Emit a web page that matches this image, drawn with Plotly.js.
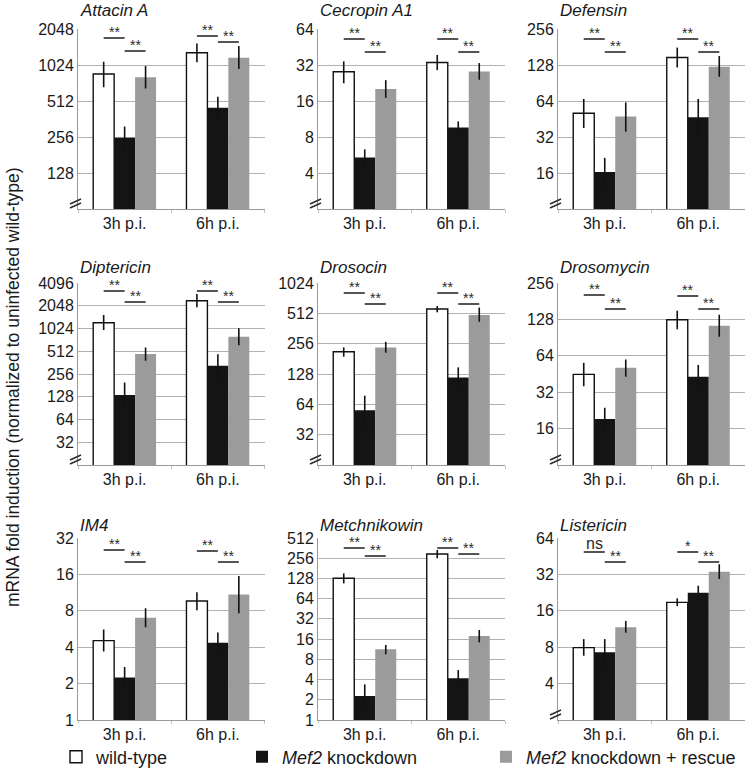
<!DOCTYPE html>
<html><head><meta charset="utf-8">
<script src="https://cdn.plot.ly/plotly-3.0.1.min.js"></script>
<style>html,body{margin:0;padding:0;background:#fff}</style>
</head><body><div id="chart" style="width:746px;height:778px"></div>
<script>
// ---------------- DATA ----------------
const genes = ['Attacin A','Cecropin A1','Defensin','Diptericin','Drosocin','Drosomycin','IM4','Metchnikowin','Listericin'];
const timepoints = ['3h p.i.','6h p.i.'];
const seriesNames = ['wild-type','<i>Mef2</i> knockdown','<i>Mef2</i> knockdown + rescue'];

// fold induction per gene: [3h, 6h]
const wildType    = [[861,1296],[28.1,33.6],[50.6,148],[1221,2390],[213,566],[44.9,127],[4.53,9.65],[129,296],[7.94,18.8]];
const wildTypeHi  = [[1092,1552],[34.3,38.8],[66.6,179],[1540,2930],[235,605],[56,151],[5.6,11.4],[152,340],[9.33,20.3]];
const wildTypeLo  = [[666,1078],[22.5,29.0],[38,122],[976,1953],[190,524],[35.8,106],[3.68,8.1],[108,256],[6.8,17.5]];

const knockdown   = [[252,449],[5.4,9.6],[16.3,46.9],[135,329],[56,118],[19.2,43],[2.25,4.35],[2.28,4.17],[7.26,22.6]];
const knockdownHi = [[313,556],[6.3,10.8],[21.4,66.6],[197,468],[78,149],[23.8,53.8],[2.75,5.28],[3.39,5.54],[9.33,25.8]];
const knockdownLo = [[203,362],[4.6,8.5],[12.5,33],[92,232],[40,93],[15.5,34.5],[1.85,3.6],[1.55,3.1],[5.6,19.8]];

const rescue      = [[809,1177],[20.2,28.3],[47.6,124],[471,798],[235,492],[50.9,113.6],[7.0,10.9],[11.3,17.8],[11.7,33.6]];
const rescueHi    = [[1003,1478],[23.9,33.2],[62.3,152],[575,1031],[267,584],[59.7,140],[8.38,15.5],[13.1,21.9],[13.2,38.8]];
const rescueLo    = [[652,948],[17.0,24.1],[35.5,102],[383,617],[208,422],[43,92],[5.86,7.62],[9.5,14.3],[10.55,29.3]];

// significance labels: [3h wt-vs-kd, 3h kd-vs-rescue, 6h wt-vs-kd, 6h kd-vs-rescue]
const sigLabels = [
  ['**','**','**','**'],['**','**','**','**'],['**','**','**','**'],
  ['**','**','**','**'],['**','**','**','**'],['**','**','**','**'],
  ['**','**','**','**'],['**','**','**','**'],['ns','**','*','**']
];

// y axis ticks and limits
const yTickVals = [
  [128,256,512,1024,2048],[4,8,16,32,64],[16,32,64,128,256],
  [32,64,128,256,512,1024,2048,4096],[32,64,128,256,512,1024],[16,32,64,128,256],
  [1,2,4,8,16,32],[1,2,4,8,16,32,64,128,256,512],[4,8,16,32,64]
];
const yAxisMin = [64,2,8,16,16,8,1,1,2];
const yAxisMax = [2048,64,256,4096,1024,256,32,512,64];
const axisBreak = [true,true,true,true,true,true,false,false,true];

// ---------------- LAYOUT ----------------
const W = 746, H = 778;
const FONT = 'Liberation Sans, Arial, Helvetica, sans-serif';
const colPx = [[78,264.5],[318,505],[558,745]];
const rowPx = [[29,209],[283,465],[538,720]];
const titleYPx = [11,267,525];
const bracketPx = [[9,22,7,13],[10,23,10,23],[10,23,10,23],[8,19,8,19],[10,21,10,21],[12,26,13,26],[12,24,13,24],[10,18,10,16],[14,24,14,24]];
const bargap = 0.326;
const barW = (1 - bargap) / 3;

const colors = ['#ffffff','#141414','#9b9b9b'];
const lineW = [1.4,0,0];
const legendIds = ['legend','legend2','legend3'];
const series = [
  [wildType, wildTypeHi, wildTypeLo],
  [knockdown, knockdownHi, knockdownLo],
  [rescue, rescueHi, rescueLo]
];

const traces = [];
const layout = {
  width: W, height: H,
  margin: {l:0, r:0, t:0, b:0},
  paper_bgcolor: '#fff', plot_bgcolor: 'rgba(0,0,0,0)',
  font: {family: FONT, color: '#1a1a1a'},
  barmode: 'group', bargap: bargap, bargroupgap: 0,
  annotations: [], shapes: []
};

genes.forEach((g, i) => {
  const r = Math.floor(i/3), c = i % 3, k = i + 1;
  const xid = k === 1 ? 'x' : 'x' + k, yid = k === 1 ? 'y' : 'y' + k;
  const xa = k === 1 ? 'xaxis' : 'xaxis' + k, ya = k === 1 ? 'yaxis' : 'yaxis' + k;
  const top = rowPx[r][0], bot = rowPx[r][1], left = colPx[c][0];
  layout[xa] = {
    domain: [colPx[c][0]/W, colPx[c][1]/W], anchor: yid,
    type: 'category', range: [-0.5, 1.5],
    showline: true, linecolor: '#9a9a9a', linewidth: 1,
    ticks: 'outside', tickson: 'boundaries', ticklen: 3, tickcolor: '#c4c4c4',
    showgrid: false, zeroline: false,
    tickfont: {size: 16, family: FONT, color: '#1a1a1a'}
  };
  layout[ya] = {
    domain: [1 - bot/H, 1 - top/H], anchor: xid,
    type: 'log', range: [Math.log10(yAxisMin[i]), Math.log10(yAxisMax[i])],
    tickvals: yTickVals[i], ticktext: yTickVals[i].map(String),
    showgrid: true, gridcolor: '#b2b2b2', gridwidth: 1,
    showline: true, linecolor: '#9a9a9a', linewidth: 1,
    ticks: '', zeroline: false,
    tickfont: {size: 16, family: FONT, color: '#1a1a1a'}
  };
  series.forEach((s, j) => {
    const v = s[0][i], hi = s[1][i], lo = s[2][i];
    traces.push({
      type: 'bar', x: timepoints, y: v, xaxis: xid, yaxis: yid,
      name: seriesNames[j], legend: legendIds[j], showlegend: i === 0,
      marker: {color: colors[j], line: {color: '#111', width: lineW[j]}},
      error_y: {type: 'data', symmetric: false,
        array: hi.map((h, n) => h - v[n]), arrayminus: v.map((x, n) => x - lo[n]),
        color: '#111', thickness: 1.6, width: 0},
      hoverinfo: 'skip'
    });
  });
  // title
  layout.annotations.push({
    text: '<i>' + g + '</i>', xref: 'paper', yref: 'paper',
    x: left/W, y: 1 - titleYPx[r]/H, xanchor: 'left', yanchor: 'middle',
    showarrow: false, font: {size: 17, family: FONT, color: '#1a1a1a'}
  });
  // significance brackets
  const ph = bot - top;
  [0,1].forEach(t => {
    [0,1].forEach(b => {
      const off = bracketPx[i][t*2 + b];
      const yd = 1 - off/ph;
      const x0 = t + (b === 0 ? -barW : 0), x1 = t + (b === 0 ? 0 : barW);
      layout.shapes.push({type: 'line', xref: xid, yref: yid + ' domain',
        x0: x0, x1: x1, y0: yd, y1: yd, line: {color: '#2a2a2a', width: 1.6}});
      const lab = sigLabels[i][t*2 + b];
      layout.annotations.push({
        text: lab, xref: xid, yref: yid + ' domain',
        x: (x0 + x1)/2, y: yd, xanchor: 'center', yanchor: 'bottom',
        yshift: lab === 'ns' ? -2 : -4, showarrow: false,
        font: {size: lab === 'ns' ? 16 : 14, family: FONT, color: '#2a2a2a'}
      });
    });
  });
  // axis break marks
  if (axisBreak[i]) {
    [0,4].forEach(d => {
      layout.shapes.push({type: 'line', xref: 'paper', yref: 'paper',
        x0: (left - 8)/W, x1: (left + 3)/W,
        y0: 1 - (bot - 1 - d)/H, y1: 1 - (bot - 6 - d)/H,
        line: {color: '#2a2a2a', width: 1.4}});
    });
  }
});

// shared y-axis title
layout.annotations.push({
  text: 'mRNA fold induction (normalized to uninfected wild-type)',
  xref: 'paper', yref: 'paper', x: 13/W, y: 1 - 387/H,
  xanchor: 'center', yanchor: 'middle', textangle: -90, showarrow: false,
  font: {size: 17.5, family: FONT, color: '#1a1a1a'}
});

// legends
const legendXPx = [56, 242, 486];
legendIds.forEach((id, j) => {
  layout[id] = {
    x: legendXPx[j]/W, y: 1 - 757/H, xanchor: 'left', yanchor: 'middle',
    orientation: 'h', bgcolor: 'rgba(0,0,0,0)', borderwidth: 0,
    font: {size: 18, family: FONT, color: '#1a1a1a'}
  };
});

Plotly.newPlot('chart', traces, layout, {staticPlot: true, displayModeBar: false});
</script>
</body></html>
